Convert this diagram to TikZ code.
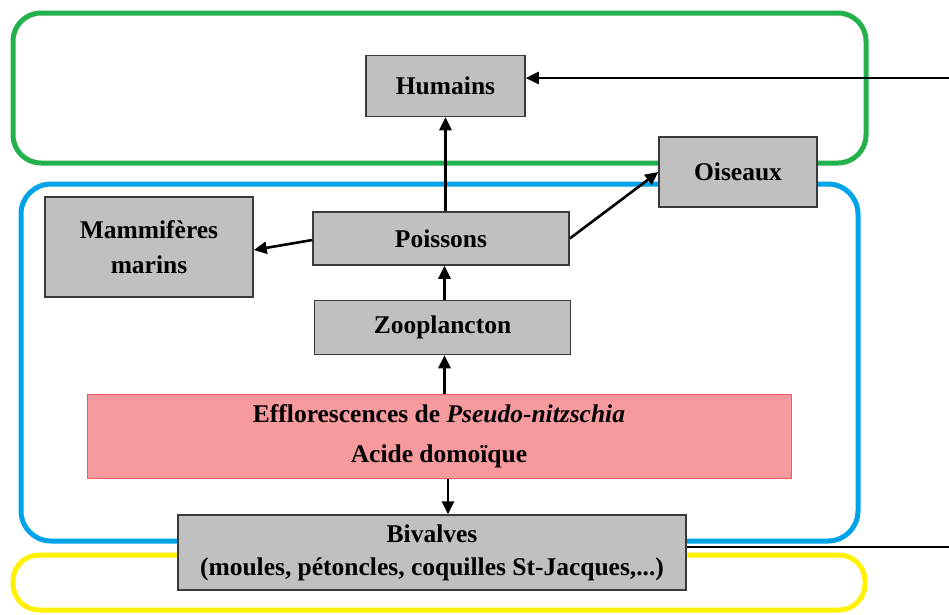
\documentclass[tikz,border=0pt]{standalone}
\usepackage{fontspec}
\setmainfont{Liberation Serif}
\usetikzlibrary{arrows.meta}
\definecolor{boxgray}{HTML}{C0C0C0}
\definecolor{boxborder}{HTML}{3A3A3A}
\definecolor{redfill}{HTML}{F79A9E}
\definecolor{redborder}{HTML}{EE5A60}
\definecolor{zgreen}{HTML}{23B14D}
\definecolor{zblue}{HTML}{00A2E8}
\definecolor{zyellow}{HTML}{FFF200}
\begin{document}
\begin{tikzpicture}[x=1pt,y=-1pt,
  box/.style={draw=boxborder, line width=1.5pt, fill=boxgray,
    font=\fontsize{25.5}{35}\selectfont\bfseries, align=center, inner sep=0pt},
  arr/.style={draw=black, line width=2.6pt, -{Triangle[length=13pt,width=12pt]}},
  zone/.style={line width=5pt}]
\useasboundingbox (0,0) rectangle (949,614);
% zones
\draw[zone, draw=zgreen, rounded corners=28pt] (13,13) rectangle (866,163);
\draw[zone, draw=zblue, rounded corners=30pt] (21,184) rectangle (858,541);
\draw[zone, draw=zyellow, rounded corners=26pt] (13,555) rectangle (865,610);
% nodes
\node[box, minimum width=159pt, minimum height=61pt] (hum) at (445.5,86) {Humains};
\node[box, minimum width=158pt, minimum height=70pt] (ois) at (738,172) {Oiseaux};
\node[box, minimum width=208pt, minimum height=100pt] (mam) at (149,247) {Mammifères\\marins};
\node[box, minimum width=256pt, minimum height=53pt] (pois) at (441,238.5) {Poissons};
\node[box, minimum width=256pt, minimum height=54pt] (zoo) at (442.5,327.5) {Zooplancton};
\node[box, draw=redborder, line width=1pt, fill=redfill, minimum width=704pt, minimum height=84pt] (red) at (439,436.5)
  {Efflorescences de \textit{Pseudo-nitzschia}\\[5pt]Acide domoïque};
\node[box, font=\fontsize{25.5}{33}\selectfont\bfseries, minimum width=508pt, minimum height=75pt] (biv) at (432,552.5)
  {Bivalves\\(moules, pétoncles, coquilles St-Jacques,...)};
% connectors
\draw[arr] (hum.south |- pois.north) -- (hum.south);
\draw[arr] ([xshift=2pt]zoo.north) -- ([xshift=2pt]zoo.north |- pois.south);
\draw[arr] ([xshift=2pt]zoo.south |- red.north) -- ([xshift=2pt]zoo.south);
\draw[arr] ([xshift=9pt]red.south) -- ([xshift=9pt]red.south |- biv.north);
\draw[arr] ([yshift=-1.5pt]pois.west) -- ([yshift=-3pt]mam.east);
\draw[arr] (pois.east) -- (ois.west);
\coordinate (offright) at (990,78);
\draw[arr] ([yshift=5.5pt]biv.east) -| (offright) -- ([yshift=8pt]hum.east);
\end{tikzpicture}
\end{document}
